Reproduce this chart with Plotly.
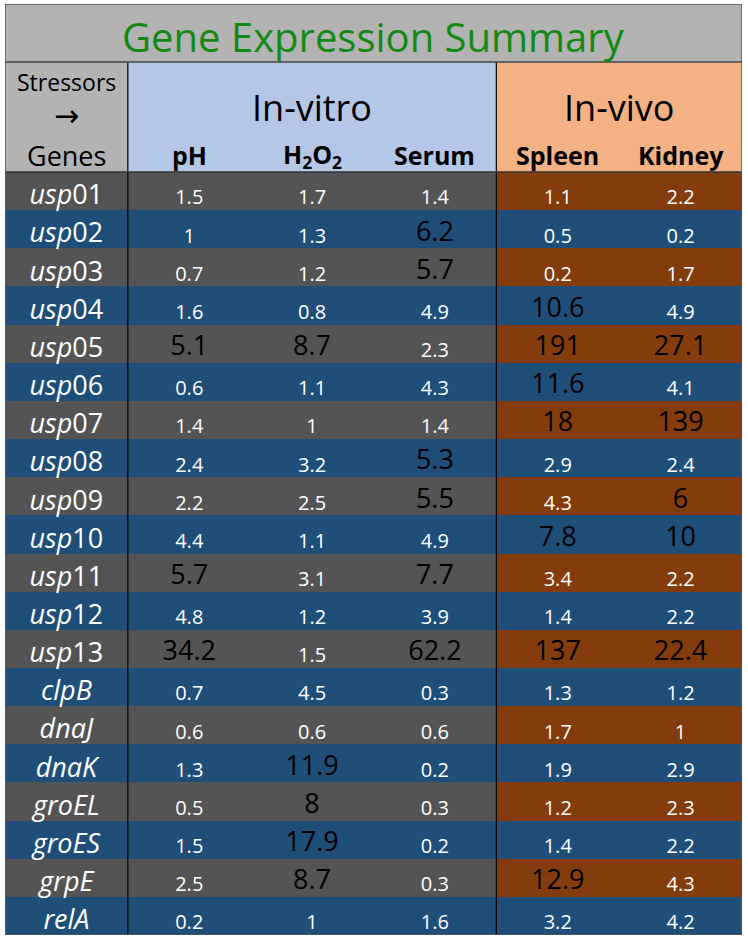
import plotly.graph_objects as go

# ---------------- data ----------------
genes = ["usp01", "usp02", "usp03", "usp04", "usp05", "usp06", "usp07", "usp08",
         "usp09", "usp10", "usp11", "usp12", "usp13", "clpB", "dnaJ", "dnaK",
         "groEL", "groES", "grpE", "relA"]
stressors = ["pH", "H<sub>2</sub>O<sub>2</sub>", "Serum", "Spleen", "Kidney"]
groups = ["In-vitro", "In-vivo"]
ph = [1.5, 1, 0.7, 1.6, 5.1, 0.6, 1.4, 2.4, 2.2, 4.4, 5.7, 4.8, 34.2, 0.7, 0.6, 1.3, 0.5, 1.5, 2.5, 0.2]
h2o2 = [1.7, 1.3, 1.2, 0.8, 8.7, 1.1, 1, 3.2, 2.5, 1.1, 3.1, 1.2, 1.5, 4.5, 0.6, 11.9, 8, 17.9, 8.7, 1]
serum = [1.4, 6.2, 5.7, 4.9, 2.3, 4.3, 1.4, 5.3, 5.5, 4.9, 7.7, 3.9, 62.2, 0.3, 0.6, 0.2, 0.3, 0.2, 0.3, 1.6]
spleen = [1.1, 0.5, 0.2, 10.6, 191, 11.6, 18, 2.9, 4.3, 7.8, 3.4, 1.4, 137, 1.3, 1.7, 1.9, 1.2, 1.4, 12.9, 3.2]
kidney = [2.2, 0.2, 1.7, 4.9, 27.1, 4.1, 139, 2.4, 6, 10, 2.2, 2.2, 22.4, 1.2, 1, 2.9, 2.3, 2.2, 4.3, 4.2]
threshold = 5

columns = [ph, h2o2, serum, spleen, kidney]
n = len(genes)

# ---------------- style ----------------
FONT = "Open Sans"
C_HEAD = "#b3b3b3"
C_VITRO = "#b4c7e7"
C_VIVO = "#f4b183"
C_GRAY = "#545454"
C_BLUE = "#1f4e79"
C_BROWN = "#843c0c"
C_TITLE = "#128a12"
palette = [C_HEAD, C_VITRO, C_VIVO, C_GRAY, C_BLUE, C_BROWN]

ROW_PX = 38.15
HEADER_ROWS = 110 / ROW_PX
TITLE_ROWS = 58 / ROW_PX
y_head_top = -0.5 - HEADER_ROWS
y_title_top = y_head_top - TITLE_ROWS

# ---------------- cell colours (heatmap) ----------------
z = []
z.append([0] * 6)                       # title row
z.append([0, 1, 1, 1, 2, 2])            # header row
for i in range(n):
    if i % 2 == 0:
        z.append([3, 3, 3, 3, 5, 5])
    else:
        z.append([4] * 6)

y_edges = [y_title_top, y_head_top] + [i - 0.5 for i in range(n + 1)]
x_edges = [j - 0.5 for j in range(7)]

cs = []
k = len(palette)
for i, c in enumerate(palette):
    cs.append([i / k, c])
    cs.append([(i + 1) / k, c])

fig = go.Figure()
fig.add_trace(go.Heatmap(z=z, x=x_edges, y=y_edges, colorscale=cs, zmin=-0.5, zmax=k - 0.5,
                         showscale=False, hoverinfo="skip"))

# gene labels
gene_txt = []
for g in genes:
    if g.startswith("usp"):
        gene_txt.append("<i>usp</i>" + g[3:])
    else:
        gene_txt.append("<i>" + g + "</i>")
fig.add_trace(go.Scatter(x=[0] * n, y=[i + 0.17 for i in range(n)], mode="text", text=gene_txt,
                         textfont=dict(family=FONT, size=27, color="white"), hoverinfo="skip"))

# values
for hi in (False, True):
    xs, ys, ts = [], [], []
    for j, col in enumerate(columns):
        for i, v in enumerate(col):
            if (v >= threshold) == hi:
                xs.append(j + 1)
                ys.append(i + (0.12 if hi else 0.22))
                ts.append(f"{v:g}")
    fig.add_trace(go.Scatter(x=xs, y=ys, mode="text", text=ts, hoverinfo="skip",
                             textfont=dict(family=FONT, size=27 if hi else 20,
                                           color="black" if hi else "white")))

# header texts
def py(p):
    return (p - 172) / ROW_PX - 0.5

ann = []
ann.append(dict(x=2.5, y=py(36), text="Gene Expression Summary",
                font=dict(family=FONT, size=40, color=C_TITLE)))
ann.append(dict(x=0, y=py(82), text="Stressors", font=dict(family=FONT, size=23, color="black")))
ann.append(dict(x=0, y=py(115), text="\u2192", font=dict(family="DejaVu Sans", size=30, color="black")))
ann.append(dict(x=0, y=py(155), text="Genes", font=dict(family=FONT, size=27, color="black")))
ann.append(dict(x=2, y=py(107), text=groups[0], font=dict(family=FONT, size=36, color="black")))
ann.append(dict(x=4.5, y=py(107), text=groups[1], font=dict(family=FONT, size=36, color="black")))
for j, s in enumerate(stressors):
    ann.append(dict(x=j + 1, y=py(155), text="<b>" + s + "</b>",
                    font=dict(family=FONT, size=25, color="black")))
for a in ann:
    a.update(xref="x", yref="y", showarrow=False, xanchor="center", yanchor="middle")

# lines
shapes = [
    dict(type="line", x0=0.5, x1=0.5, y0=y_head_top, y1=n - 0.5, line=dict(color="black", width=1.2)),
    dict(type="line", x0=3.5, x1=3.5, y0=y_head_top, y1=n - 0.5, line=dict(color="black", width=1.2)),
    dict(type="line", x0=-0.5, x1=5.5, y0=y_head_top, y1=y_head_top, line=dict(color="#444444", width=1.5)),
    dict(type="line", x0=-0.5, x1=5.5, y0=-0.5, y1=-0.5, line=dict(color="#333333", width=1.5)),
    dict(type="rect", x0=-0.5, x1=5.5, y0=y_title_top, y1=n - 0.5, line=dict(color="#555555", width=1.5)),
]
for s in shapes:
    s.update(xref="x", yref="y")

fig.update_layout(
    width=748, height=943,
    margin=dict(l=5, r=6, t=4, b=8),
    paper_bgcolor="white", plot_bgcolor="white",
    showlegend=False,
    xaxis=dict(range=[-0.5, 5.5], visible=False, fixedrange=True),
    yaxis=dict(range=[n - 0.5, y_title_top], visible=False, fixedrange=True),
    annotations=ann, shapes=shapes,
)

fig.write_html("out.html", config={"displayModeBar": False},
               post_script="document.body.style.margin='0';document.body.style.overflow='hidden';")
